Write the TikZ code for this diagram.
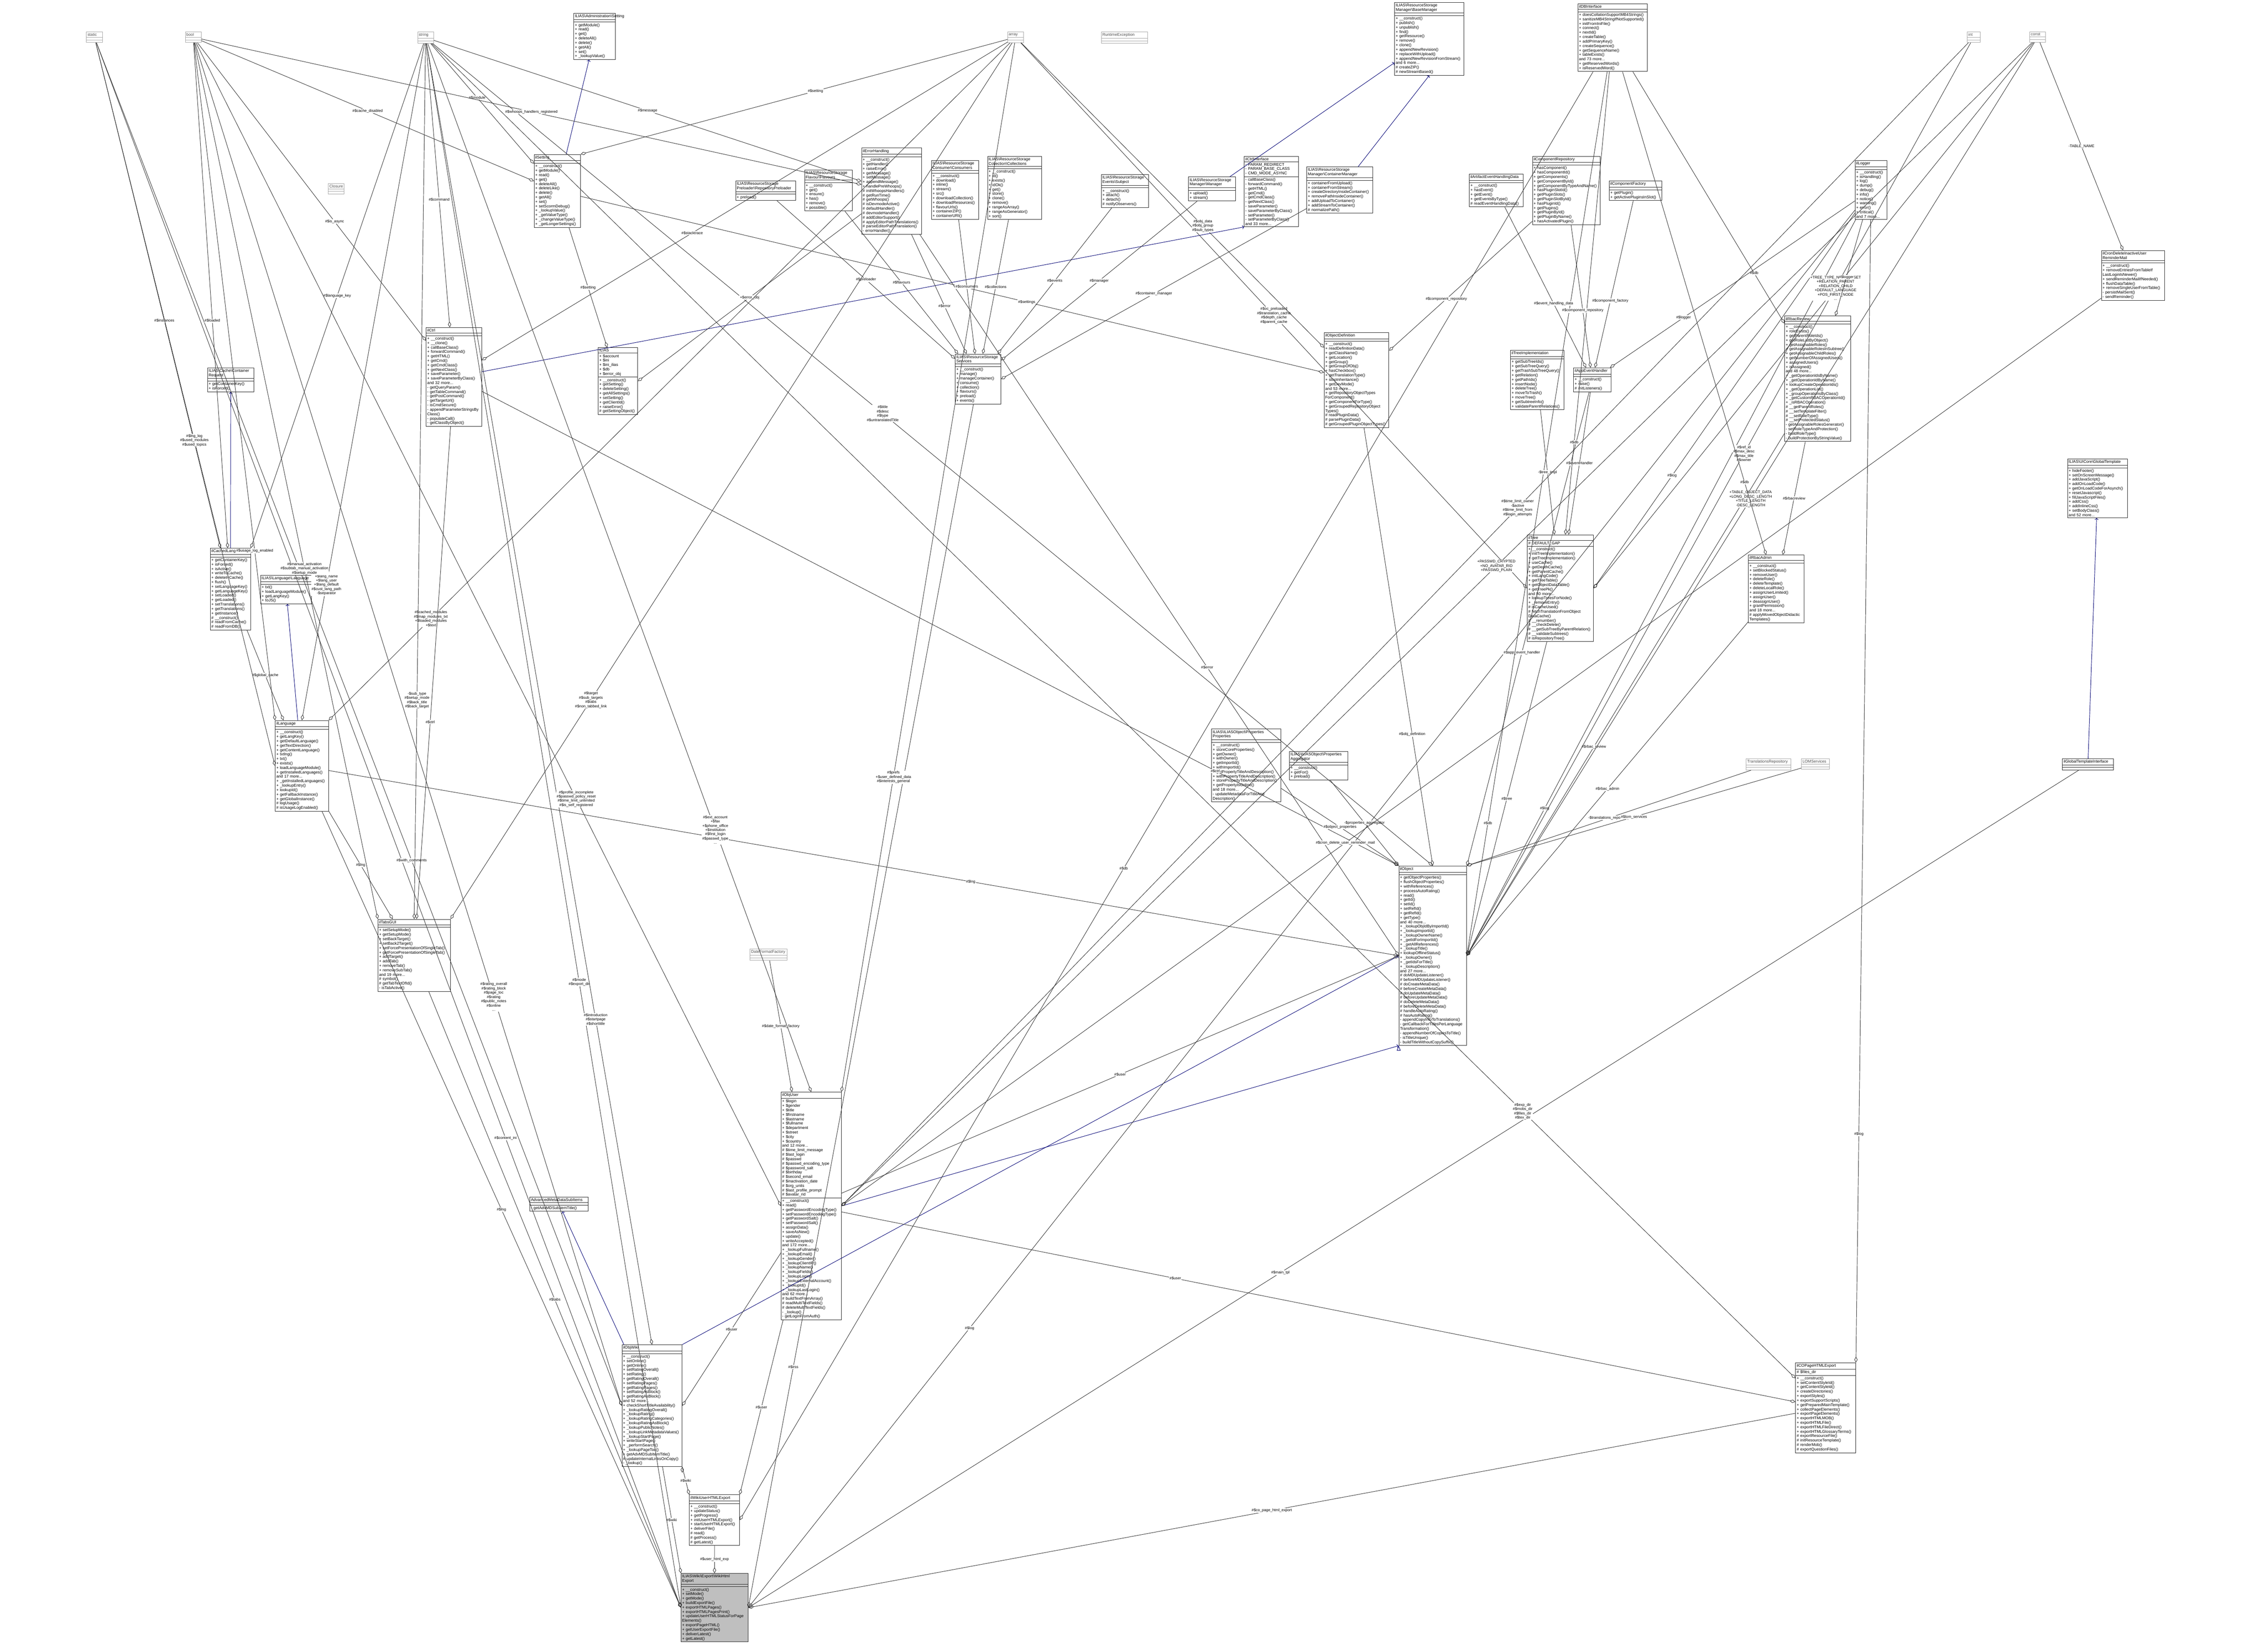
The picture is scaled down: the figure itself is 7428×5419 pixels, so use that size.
\documentclass[tikz,border=0pt]{standalone}
\usepackage{fontspec}
\setmainfont{Liberation Sans}
\usetikzlibrary{shapes.multipart,arrows.meta}

\newcommand{\bs}{\textbackslash{}}

\begin{document}
\begin{tikzpicture}[x=0.02cm,y=-0.02cm]
\tikzstyle{cls}=[draw=black!85,rectangle split,rectangle split parts=3,anchor=north west,
  rectangle split part align={center,left,left},rectangle split empty part height=10pt,
  font=\fontsize{7.4}{8.3}\selectfont,inner sep=2pt,line width=0.8pt]
\tikzstyle{prim}=[cls,draw=black!35,text=black!70]
\tikzstyle{agg}=[draw=black!80,line width=0.8pt,-{Diamond[open,length=11pt,width=6pt]}]
\tikzstyle{inh}=[draw=blue!45!black,line width=0.8pt,-{Triangle[open,length=9pt,width=7pt]}]
\tikzstyle{lbl}=[font=\fontsize{7}{8}\selectfont,align=center,fill=white,inner sep=1pt]
\useasboundingbox (0,0) rectangle (7428,5419);

% primitive types
\node [prim,text width=0.9cm] (static) at (283,104) {static\nodepart{two}\nodepart{three}};
\node [prim,text width=0.9cm] (bool) at (607,104) {bool\nodepart{two}\nodepart{three}};
\node [prim,text width=0.9cm] (string) at (1369,104) {string\nodepart{two}\nodepart{three}};
\node [prim,text width=0.9cm] (array) at (3304,104) {array\nodepart{two}\nodepart{three}};
\node [prim,text width=2.9cm] (runtime) at (3611,104) {RuntimeException\nodepart{two}\nodepart{three}};
\node [prim,text width=0.7cm] (int) at (6451,104) {int\nodepart{two}\nodepart{three}};
\node [prim,text width=0.9cm] (const) at (6656,104) {const\nodepart{two}\nodepart{three}};
\node [prim,text width=0.9cm] (closure) at (1076,601) {Closure\nodepart{two}\nodepart{three}};
\node [prim,text width=2.8cm] (transrepo) at (5726,2488) {TranslationsRepository\nodepart{two}\nodepart{three}};
\node [prim,text width=1.7cm] (lom) at (5907,2488) {LOMServices\nodepart{two}\nodepart{three}};
\node [prim,text width=2.3cm] (datefmt) at (2459,3113) {DateFormatFactory\nodepart{two}\nodepart{three}};

% classes, top part
\node [cls,text width=2.6cm] (admsetting) at (1881,43) {ILIAS\bs Administration\bs Setting\nodepart{two}\nodepart{three}+ getModule()\\+ read()\\+ get()\\+ deleteAll()\\+ delete()\\+ getAll()\\+ set()\\+ \_lookupValue()};
\node [cls,text width=2.9cm] (setting) at (1751,506) {ilSetting\nodepart{two}\nodepart{three}+ \_\_construct()\\+ getModule()\\+ read()\\+ get()\\+ deleteAll()\\+ deleteLike()\\+ delete()\\+ getAll()\\+ set()\\+ setScormDebug()\\+ \_lookupValue()\\+ \_getValueType()\\+ \_changeValueType()\\+ \_getLongerSettings()};
\node [cls,text width=3.8cm] (error) at (2825,485) {ilErrorHandling\nodepart{two}\nodepart{three}+ \_\_construct()\\+ getHandler()\\+ raiseError()\\+ getMessage()\\+ setMessage()\\+ appendMessage()\\+ handlePreWhoops()\\\# initWhoopsHandlers()\\\# getRunTime()\\\# getWhoops()\\\# isDevmodeActive()\\\# defaultHandler()\\\# devmodeHandler()\\\# addEditorSupport()\\\# applyEditorPathTranslations()\\\# parseEditorPathTranslation()\\- errorHandler()};
\node [cls,text width=3.8cm] (preloader) at (2412,593) {ILIAS\bs ResourceStorage\\Preloader\bs RepositoryPreloader\nodepart{two}\nodepart{three}+ preload()};
\node [cls,text width=3.0cm] (flavours) at (2638,557) {ILIAS\bs ResourceStorage\\Flavour\bs Flavours\nodepart{two}\nodepart{three}+ \_\_construct()\\+ get()\\+ ensure()\\+ has()\\+ remove()\\+ possible()};
\node [cls,text width=2.95cm] (consumers) at (3054,526) {ILIAS\bs ResourceStorage\\Consumer\bs Consumers\nodepart{two}\nodepart{three}+ \_\_construct()\\+ download()\\+ inline()\\+ stream()\\+ src()\\+ downloadCollection()\\+ downloadResources()\\+ flavourUrls()\\+ containerZIP()\\+ containerURI()};
\node [cls,text width=3.4cm] (collection) at (3238,512) {ILIAS\bs ResourceStorage\\Collection\bs Collections\nodepart{two}\nodepart{three}+ \_\_construct()\\+ id()\\+ exists()\\+ idOk()\\+ get()\\+ store()\\+ clone()\\+ remove()\\+ rangeAsArray()\\+ rangeAsGenerator()\\+ sort()};
\node [cls,text width=2.95cm] (events) at (3611,572) {ILIAS\bs ResourceStorage\\Events\bs Subject\nodepart{two}\nodepart{three}+ \_\_construct()\\+ attach()\\+ detach()\\\# notifyObservers()};
\node [cls,text width=4.4cm] (basemanager) at (4573,7) {ILIAS\bs ResourceStorage\\Manager\bs BaseManager\nodepart{two}\nodepart{three}+ \_\_construct()\\+ publish()\\+ unpublish()\\+ find()\\+ getResource()\\+ remove()\\+ clone()\\+ appendNewRevision()\\+ replaceWithUpload()\\+ appendNewRevisionFromStream()\\and 6 more...\\\# createZIP()\\\# newStreamBased()};
\node [cls,text width=4.4cm] (db) at (5174,12) {ilDBInterface\nodepart{two}\nodepart{three}+ doesCollationSupportMB4Strings()\\+ sanitizeMB4StringIfNotSupported()\\+ initFromIniFile()\\+ connect()\\+ nextId()\\+ createTable()\\+ addPrimaryKey()\\+ createSequence()\\+ getSequenceName()\\+ tableExists()\\and 73 more...\\+ getReservedWords()\\+ isReservedWord()};
\node [cls,text width=2.95cm] (manager) at (3897,580) {ILIAS\bs ResourceStorage\\Manager\bs Manager\nodepart{two}\nodepart{three}+ upload()\\+ stream()};
\node [cls,text width=3.4cm] (ctrlif) at (4080,512) {ilCtrlInterface\nodepart{two}- PARAM\_REDIRECT\\- PARAM\_BASE\_CLASS\\- CMD\_MODE\_ASYNC\nodepart{three}- callBaseClass()\\- forwardCommand()\\- getHTML()\\- getCmd()\\- getCmdClass()\\- getNextClass()\\- saveParameter()\\- saveParameterByClass()\\- setParameter()\\- setParameterByClass()\\and 33 more...};
\node [cls,text width=4.2cm] (containermgr) at (4285,547) {ILIAS\bs ResourceStorage\\Manager\bs ContainerManager\nodepart{two}\nodepart{three}+ containerFromUpload()\\+ containerFromStream()\\+ createDirectoryInsideContainer()\\+ removePathInsideContainer()\\+ addUploadToContainer()\\+ addStreamToContainer()\\\# normalizePath()};
\node [cls,text width=3.4cm] (evdata) at (4818,570) {ilArtifactEventHandlingData\nodepart{two}\nodepart{three}+ \_\_construct()\\+ hasEvent()\\+ getEvent()\\+ getEventsByType()\\\# readEventHandlingData()};
\node [cls,text width=4.3cm] (comprepo) at (5025,512) {ilComponentRepository\nodepart{two}\nodepart{three}+ hasComponent()\\+ hasComponentId()\\+ getComponents()\\+ getComponentById()\\+ getComponentByTypeAndName()\\+ hasPluginSlotId()\\+ getPluginSlots()\\+ getPluginSlotById()\\+ hasPluginId()\\+ getPlugins()\\+ getPluginById()\\+ getPluginByName()\\+ hasActivatedPlugin()};
\node [cls,text width=3.3cm] (compfactory) at (5277,593) {ilComponentFactory\nodepart{two}\nodepart{three}+ getPlugin()\\+ getActivePluginsInSlot()};
\node [cls,text width=1.95cm] (logger) at (6083,526) {ilLogger\nodepart{two}\nodepart{three}+ \_\_construct()\\+ isHandling()\\+ log()\\+ dump()\\+ debug()\\+ info()\\+ notice()\\+ warning()\\+ error()\\+ critical()\\and 7 more...};
\node [cls,text width=4.0cm] (cronmail) at (6891,821) {ilCronDeleteInactiveUser\\ReminderMail\nodepart{two}\nodepart{three}+ \_\_construct()\\+ removeEntriesFromTableIf\\LastLoginIsNewer()\\+ sendReminderMailIfNeeded()\\+ flushDataTable()\\+ removeSingleUserFromTable()\\- persistMailSent()\\- sendReminder()};

% classes, middle part
\node [cls,text width=3.5cm] (ctrl) at (1397,1074) {ilCtrl\nodepart{two}\nodepart{three}+ \_\_construct()\\+ \_\_clone()\\+ callBaseClass()\\+ forwardCommand()\\+ getHTML()\\+ getCmd()\\+ getCmdClass()\\+ getNextClass()\\+ saveParameter()\\+ saveParameterByClass()\\and 32 more...\\- getQueryParam()\\- getTableCommand()\\- getPostCommand()\\- getTargetUrl()\\- isCmdSecure()\\- appendParameterStringsBy\\Class()\\- populateCall()\\- getClassByObject()};
\node [cls,text width=2.45cm] (ilias) at (1961,1140) {ILIAS\nodepart{two}+ \$account\\+ \$ini\\+ \$ini\_ilias\\+ \$db\\+ \$error\_obj\nodepart{three}+ \_\_construct()\\+ getSetting()\\+ deleteSetting()\\+ getAllSettings()\\+ setSetting()\\+ getClientId()\\+ raiseError()\\\# getSettingObject()};
\node [cls,text width=2.85cm] (services) at (3132,1161) {ILIAS\bs ResourceStorage\\Services\nodepart{two}\nodepart{three}+ \_\_construct()\\+ manage()\\+ manageContainer()\\+ consume()\\+ collection()\\+ flavours()\\+ preload()\\+ events()};
\node [cls,text width=2.9cm] (request) at (680,1206) {ILIAS\bs Cache\bs Container\\Request\nodepart{two}\nodepart{three}+ getContainerKey()\\+ isForced()};
\node [cls,text width=4.1cm] (objdef) at (4342,1090) {ilObjectDefinition\nodepart{two}\nodepart{three}+ \_\_construct()\\+ readDefinitionData()\\+ getClassName()\\+ getLocation()\\+ getGroup()\\+ getGroupOfObj()\\+ hasCheckbox()\\+ getTranslationType()\\+ stopInheritance()\\+ getDevMode()\\and 53 more...\\+ getRepositoryObjectTypes\\ForComponent()\\+ getComponentForType()\\+ getGroupedRepositoryObject\\Types()\\\# readPluginData()\\\# parsePluginData()\\\# getGroupedPluginObjectTypes()};
\node [cls,text width=3.35cm] (treeimpl) at (4953,1148) {ilTreeImplementation\nodepart{two}\nodepart{three}+ getSubTreeIds()\\+ getSubTreeQuery()\\+ getTrashSubTreeQuery()\\+ getRelation()\\+ getPathIds()\\+ insertNode()\\+ deleteTree()\\+ moveToTrash()\\+ moveTree()\\+ getSubtreeInfo()\\+ validateParentRelations()};
\node [cls,text width=2.3cm] (appevent) at (5160,1206) {ilAppEventHandler\nodepart{two}\nodepart{three}+ \_\_construct()\\+ raise()\\\# initListeners()};
\node [cls,text width=4.2cm] (rbacreview) at (5852,1036) {ilRbacReview\nodepart{two}\nodepart{three}+ \_\_construct()\\+ roleExists()\\+ getParentRoleIds()\\+ getRoleListByObject()\\+ getAssignableRoles()\\+ getAssignableRolesInSubtree()\\+ getAssignableChildRoles()\\+ getNumberOfAssignedUsers()\\+ assignedUsers()\\+ isAssigned()\\and 48 more...\\+ \_getOperationIdsByName()\\+ \_getOperationIdByName()\\+ lookupCreateOperationIds()\\+ \_getOperationList()\\+ \_groupOperationsByClass()\\+ \_getCustomRBACOperationId()\\+ \_isRBACOperation()\\\# \_\_getParentRoles()\\\# \_\_setTemplateFilter()\\\# \_\_setRoleType()\\\# \_\_setProtectedStatus()\\- getAssignableRolesGenerator()\\- setRoleTypeAndProtection()\\- buildRoleType()\\- buildProtectionByStringValue()};
\node [cls,text width=2.5cm] (cachedlng) at (689,1798) {ilCachedLanguage\nodepart{two}\nodepart{three}+ getContainerKey()\\+ isForced()\\+ isActive()\\+ writeToCache()\\+ deleteInCache()\\+ flush()\\+ setLanguageKey()\\+ getLanguageKey()\\+ setLoaded()\\+ getLoaded()\\+ setTranslations()\\+ getTranslations()\\+ getInstance()\\\# \_\_construct()\\\# readFromCache()\\\# readFromDB()};
\node [cls,text width=3.2cm] (language) at (854,1887) {ILIAS\bs Language\bs Language\nodepart{two}\nodepart{three}+ txt()\\+ loadLanguageModule()\\+ getLangKey()\\+ toJS()};
\node [cls,text width=4.2cm] (tree) at (5008,1754) {ilTree\nodepart{two}\# DEFAULT\_GAP\nodepart{three}+ \_\_construct()\\+ initTreeImplementation()\\+ getTreeImplementation()\\+ useCache()\\+ getDepthCache()\\+ getParentCache()\\+ initLangCode()\\+ getTreeTable()\\+ getObjectDataTable()\\+ getTreePk()\\and 80 more...\\+ lookupTreesForNode()\\+ \_removeEntry()\\\# isCacheUsed()\\\# fetchTranslationFromObject\\DataCache()\\\# \_\_renumber()\\\# \_\_checkDelete()\\\# \_\_getSubTreeByParentRelation()\\\# \_\_validateSubtrees()\\\# isRepositoryTree()};
\node [cls,text width=3.5cm] (rbacadmin) at (5733,1820) {ilRbacAdmin\nodepart{two}\nodepart{three}+ \_\_construct()\\+ setBlockedStatus()\\+ removeUser()\\+ deleteRole()\\+ deleteTemplate()\\+ deleteLocalRole()\\+ assignUserLimited()\\+ assignUser()\\+ deassignUser()\\+ grantPermission()\\and 18 more...\\\# applyMovedObjectDidactic\\Templates()};
\node [cls,text width=3.8cm] (globaltpl) at (6780,1505) {ILIAS\bs UICore\bs GlobalTemplate\nodepart{two}\nodepart{three}+ hideFooter()\\+ setOnScreenMessage()\\+ addJavaScript()\\+ addOnLoadCode()\\+ getOnLoadCodeForAsynch()\\+ resetJavascript()\\+ fillJavaScriptFiles()\\+ addCss()\\+ addInlineCss()\\+ setBodyClass()\\and 52 more...};
\node [cls,text width=3.35cm] (lng) at (902,2363) {ilLanguage\nodepart{two}\nodepart{three}+ \_\_construct()\\+ getLangKey()\\+ getDefaultLanguage()\\+ getTextDirection()\\+ getContentLanguage()\\+ txtlng()\\+ txt()\\+ exists()\\+ loadLanguageModule()\\+ getInstalledLanguages()\\and 17 more...\\+ \_getInstalledLanguages()\\+ \_lookupEntry()\\+ lookupId()\\+ getFallbackInstance()\\+ getGlobalInstance()\\\# logUsage()\\\# isUsageLogEnabled()};
\node [cls,text width=4.4cm] (properties) at (3973,2391) {ILIAS\bs ILIASObject\bs Properties\\Properties\nodepart{two}\nodepart{three}+ \_\_construct()\\+ storeCoreProperties()\\+ getOwner()\\+ withOwner()\\+ getImportId()\\+ withImportId()\\+ getPropertyTitleAndDescription()\\+ withPropertyTitleAndDescription()\\+ storePropertyTitleAndDescription()\\+ getPropertyIsOnline()\\and 18 more...\\- updateMetadataForTitleAnd\\Description()};
\node [cls,text width=3.7cm] (aggregator) at (4228,2465) {ILIAS\bs ILIASObject\bs Properties\\Aggregator\nodepart{two}\nodepart{three}+ \_\_construct()\\+ getFor()\\+ preload()};
\node [cls,text width=3.2cm] (gtplif) at (6763,2488) {ilGlobalTemplateInterface\nodepart{two}\nodepart{three}};

% classes, lower part
\node [cls,text width=4.3cm] (object) at (4587,2840) {ilObject\nodepart{two}\nodepart{three}+ getObjectProperties()\\+ flushObjectProperties()\\+ withReferences()\\+ processAutoRating()\\+ read()\\+ getId()\\+ setId()\\+ setRefId()\\+ getRefId()\\+ getType()\\and 40 more...\\+ \_lookupObjIdByImportId()\\+ \_lookupImportId()\\+ \_lookupOwnerName()\\+ \_getIdForImportId()\\+ \_getAllReferences()\\+ \_lookupTitle()\\+ lookupOfflineStatus()\\+ \_lookupOwner()\\+ \_getIdsForTitle()\\+ \_lookupDescription()\\and 27 more...\\\# doMDUpdateListener()\\\# beforeMDUpdateListener()\\\# doCreateMetaData()\\\# beforeCreateMetaData()\\\# doUpdateMetaData()\\\# beforeUpdateMetaData()\\\# doDeleteMetaData()\\\# beforeDeleteMetaData()\\\# handleAutoRating()\\\# hasAutoRating()\\- appendCopyInfoToTranslations()\\- getCallbackForTitlesPerLanguage\\Transformation()\\- appendNumberOfCopiesToTitle()\\- isTitleUnique()\\- buildTitleWithoutCopySuffix()};
\node [cls,text width=4.6cm] (tabs) at (1239,3015) {ilTabsGUI\nodepart{two}\nodepart{three}+ setSetupMode()\\+ getSetupMode()\\+ setBackTarget()\\+ setBack2Target()\\+ setForcePresentationOfSingleTab()\\+ getForcePresentationOfSingleTab()\\+ addTarget()\\+ addTab()\\+ removeTab()\\+ removeSubTab()\\and 19 more...\\\# symbol()\\\# getTabTextOfId()\\- isTabActive()};
\node [cls,text width=3.8cm] (objuser) at (2561,3582) {ilObjUser\nodepart{two}+ \$login\\+ \$gender\\+ \$title\\+ \$firstname\\+ \$lastname\\+ \$fullname\\+ \$department\\+ \$street\\+ \$city\\+ \$country\\and 12 more...\\\# \$time\_limit\_message\\\# \$last\_login\\\# \$passwd\\\# \$passwd\_encoding\_type\\\# \$password\_salt\\\# \$birthday\\\# \$second\_email\\\# \$inactivation\_date\\\# \$org\_units\\\# \$last\_profile\_prompt\\\# \$avatar\_rid\nodepart{three}+ \_\_construct()\\+ read()\\+ getPasswordEncodingType()\\+ setPasswordEncodingType()\\+ getPasswordSalt()\\+ setPasswordSalt()\\+ assignData()\\+ saveAsNew()\\+ update()\\+ writeAccepted()\\and 172 more...\\+ \_lookupFullname()\\+ \_lookupEmail()\\+ \_lookupGender()\\+ \_lookupClientIP()\\+ \_lookupName()\\+ \_lookupFields()\\+ \_lookupLogin()\\+ \_lookupExternalAccount()\\+ \_lookupId()\\+ \_lookupLastLogin()\\and 62 more...\\\# buildTextFromArray()\\\# readMultiTextFields()\\\# deleteMultiTextFields()\\- \_lookup()\\- getLoginFromAuth()};
\node [cls,text width=3.7cm] (amdsub) at (1737,3926) {AdvancedMetaDataSubItems\nodepart{two}\nodepart{three}- getAdvMDSubItemTitle()};
\node [cls,text width=3.8cm] (objwiki) at (2039,4411) {ilObjWiki\nodepart{two}\nodepart{three}+ \_\_construct()\\+ setOnline()\\+ getOnline()\\+ setRatingOverall()\\+ setRating()\\+ getRatingOverall()\\+ setRatingPages()\\+ getRatingPages()\\+ setRatingAsBlock()\\+ getRatingAsBlock()\\and 52 more...\\+ checkShortTitleAvailability()\\+ \_lookupRatingOverall()\\+ \_lookupRating()\\+ \_lookupRatingCategories()\\+ \_lookupRatingAsBlock()\\+ \_lookupPublicNotes()\\+ \_lookupLinkMetadataValues()\\+ \_lookupStartPage()\\+ writeStartPage()\\+ \_performSearch()\\+ \_lookupPageToc()\\+ getAdvMDSubItemTitle()\\\# updateInternalLinksOnCopy()\\- \_lookup()};
\node [cls,text width=3.15cm] (userexp) at (2260,4903) {ilWikiUserHTMLExport\nodepart{two}\nodepart{three}+ \_\_construct()\\+ updateStatus()\\+ getProgress()\\+ initUserHTMLExport()\\+ startUserHTMLExport()\\+ deliverFile()\\\# read()\\\# getProcess()\\\# getLatest()};
\node [cls,text width=3.8cm] (copage) at (5888,4470) {ilCOPageHTMLExport\nodepart{two}\# \$files\_dir\nodepart{three}+ \_\_construct()\\+ setContentStyleId()\\+ getContentStyleId()\\+ createDirectories()\\+ exportStyles()\\+ exportSupportScripts()\\+ getPreparedMainTemplate()\\+ collectPageElements()\\+ exportPageElements()\\+ exportHTMLMOB()\\+ exportHTMLFile()\\+ exportHTMLFileDirect()\\+ exportHTMLGlossaryTerms()\\\# exportResourceFile()\\\# initResourceTemplate()\\\# renderMob()\\\# exportQuestionFiles()};
\node [cls,text width=4.25cm,fill=black!25] (wikiexp) at (2233,5161) {ILIAS\bs Wiki\bs Export\bs WikiHtml\\Export\nodepart{two}\nodepart{three}+ \_\_construct()\\+ setMode()\\+ getMode()\\+ buildExportFile()\\+ exportHTMLPages()\\+ exportHTMLPagesPrint()\\+ updateUserHTMLStatusForPage\\Elements()\\+ exportPageHTML()\\+ getUserExportFile()\\+ deliverLatest()\\+ getLatest()};

% inheritance
\path [inh]
    (admsetting) edge [<-] (setting)
    (ctrlif.south west) edge [<-] (ctrl)
    (basemanager) edge [<-] (manager)
    (basemanager.south) edge [<-] (containermgr)
    (request) edge [<-] (cachedlng)
    (language) edge [<-] (lng)
    (globaltpl) edge [<-] (gtplif)
    (amdsub) edge [<-] (objwiki)
    (object.west) edge [<-] (objwiki.north east)
    (object.south west) edge [<-] (objuser.east);

% members of the export
\path [agg,every node/.style=lbl]
    (userexp) edge node {\#\$user\_html\_exp} (wikiexp)
    (objwiki) edge node {\#\$wiki} (wikiexp.north west)
    (objwiki.south east) edge node {\#\$wiki} (userexp.north west)
    (objuser) edge node {\#\$user} (userexp.north east)
    (lng) edge node {\#\$lng} (wikiexp.west)
    (tabs) edge node {\#\$tabs} (wikiexp.west)
    (static) edge node[pos=0.7] {\#\$content\_ini} (wikiexp.west)
    (string) edge node[pos=0.6] {\#\$mode\\\#\$export\_dir} (wikiexp.west)
    (copage) edge node {\#\$co\_page\_html\_export} (wikiexp.east)
    (gtplif) edge node[pos=0.6] {\#\$main\_tpl} (wikiexp.east)
    (logger) edge node[pos=0.8] {\#\$log} (wikiexp.east)
    (services) edge node[pos=0.8] {\#\$irss} (wikiexp.east)
    (db) edge node[pos=0.55] {\#\$db} (userexp.east);

% members of the wiki
\path [agg,every node/.style=lbl]
    (objuser) edge node {\#\$user} (objwiki.east)
    (string) edge node[pos=0.75] {\#\$introduction\\\#\$startpage\\\#\$shorttitle} (objwiki.north)
    (bool) edge node[pos=0.7] {\#\$rating\_overall\\\#\$rating\_block\\\#\$page\_toc\\\#\$rating\\\#\$public\_notes\\\#\$online\\...} (objwiki.west)
    (static) edge node[pos=0.6] {\#\$with\_comments} (objwiki.west);

% members of the object
\path [agg,every node/.style=lbl]
    (tree) edge node {\#\$tree} (object.east)
    (rbacadmin) edge node {\#\$rbac\_admin} (object.east)
    (rbacreview) edge node[pos=0.6] {\#\$rbac\_review} (object.east)
    (appevent) edge node[pos=0.55] {\#\$app\_event\_handler} (object.north east)
    (objdef) edge node[pos=0.7] {\#\$obj\_definition} (object.north)
    (objuser) edge node {\#\$user} (object.west)
    (error) edge node[pos=0.6] {\#\$error} (object.west)
    (lng) edge node[pos=0.6] {\#\$lng} (object.west)
    (ctrl) edge node[pos=0.8] {\#\$ctrl} (object.north west)
    (properties) edge node {\#\$object\_properties} (object.north west)
    (aggregator) edge node {-\$properties\_aggregator} (object.north west)
    (transrepo) edge node {-\$translations\_repository} (object.north east)
    (lom) edge node {\#\$lom\_services} (object.north east)
    (db) edge node[pos=0.85] {\#\$db} (object.east)
    (logger) edge node[pos=0.8] {\#\$log} (object.east)
    (const) edge node[pos=0.5] {+TABLE\_OBJECT\_DATA\\+LONG\_DESC\_LENGTH\\+TITLE\_LENGTH\\-DESC\_LENGTH} (object.east)
    (int) edge node[pos=0.45] {\#\$ref\_id\\\#\$max\_desc\\\#\$max\_title\\\#\$owner} (object.east)
    (string) edge node[pos=0.45] {\#\$title\\\#\$desc\\\#\$type\\\#\$untranslatedTitle} (object.north);

% members of the tree, rbac and events
\path [agg,every node/.style=lbl]
    (treeimpl) edge node {-\$tree\_impl} (tree)
    (appevent) edge node {\#\$eventHandler} (tree)
    (db) edge node[pos=0.8] {\#\$db} (tree)
    (logger) edge node[pos=0.7] {\#\$log} (tree.east)
    (array) edge node[pos=0.5] {\#\$oc\_preloaded\\\#\$translation\_cache\\\#\$depth\_cache\\\#\$parent\_cache} (tree.west)
    (const) edge node[pos=0.45] {+TREE\_TYPE\_NESTED\_SET\\+RELATION\_PARENT\\+RELATION\_CHILD\\+DEFAULT\_LANGUAGE\\+POS\_FIRST\_NODE\\...} (tree.east)
    (rbacreview) edge node {\#\$rbacreview} (rbacadmin)
    (db) edge node[pos=0.85] {\#\$db} (rbacadmin)
    (logger) edge node[pos=0.6] {\#\$logger} (rbacreview)
    (db) edge node[pos=0.8] {\#\$db} (rbacreview)
    (evdata) edge node[pos=0.6] {\#\$event\_handling\_data} (appevent)
    (comprepo) edge node[pos=0.6] {\#\$component\_repository} (appevent)
    (compfactory) edge node[pos=0.6] {\#\$component\_factory} (appevent)
    (logger) edge node[pos=0.7] {\#\$logger} (appevent)
    (comprepo) edge node[pos=0.6] {\#\$component\_repository} (objdef)
    (setting) edge node[pos=0.6] {\#\$settings} (objdef)
    (array) edge node[pos=0.6] {\#\$obj\_data\\\#\$obj\_group\\\#\$sub\_types} (objdef);

% members of the resource storage
\path [agg,every node/.style=lbl]
    (preloader) edge node {\#\$preloader} (services)
    (flavours) edge node {\#\$flavours} (services)
    (error) edge node[pos=0.6] {\#\$error} (services)
    (consumers) edge node {\#\$consumers} (services)
    (collection) edge node {\#\$collections} (services)
    (events) edge node {\#\$events} (services)
    (manager) edge node {\#\$manager} (services)
    (containermgr) edge node {\#\$container\_manager} (services.east);

% members of ctrl, settings and error handling
\path [agg,every node/.style=lbl]
    (string) edge node[pos=0.55] {\#\$command} (ctrl)
    (array) edge node[pos=0.6] {\#\$stacktrace} (ctrl)
    (bool) edge node[pos=0.6] {\#\$is\_async} (ctrl)
    (string) edge node[pos=0.45] {\#\$module} (setting)
    (bool) edge node[pos=0.5] {\#\$cache\_disabled} (setting)
    (array) edge node[pos=0.45] {\#\$setting} (setting.north east)
    (string) edge node[pos=0.5] {\#\$message} (error)
    (bool) edge node[pos=0.5] {\#\$whoops\_handlers\_registered} (error)
    (setting) edge node[pos=0.5] {\#\$setting} (ilias)
    (error) edge node[pos=0.5] {+\$error\_obj} (ilias.east);

% members of the language classes and tabs
\path [agg,every node/.style=lbl]
    (static) edge node[pos=0.55] {\#\$instances} (cachedlng)
    (bool) edge node[pos=0.55] {\#\$loaded} (cachedlng)
    (string) edge node[pos=0.5] {\#\$language\_key} (cachedlng.north east)
    (cachedlng) edge node {\#\$global\_cache} (lng)
    (static) edge node[pos=0.55] {\#\$lng\_log\\\#\$used\_modules\\\#\$used\_topics} (lng.west)
    (bool) edge node[pos=0.75] {\#\$usage\_log\_enabled} (lng.north west)
    (string) edge node[pos=0.8] {+\$lang\_name\\+\$lang\_user\\+\$lang\_default\\\#\$cust\_lang\_path\\-\$separator} (lng.north)
    (array) edge node[pos=0.85] {\#\$cached\_modules\\\#\$map\_modules\_txt\\+\$loaded\_modules\\+\$text} (lng.north east)
    (lng) edge node {\#\$lng} (tabs)
    (ctrl) edge node[pos=0.6] {\#\$ctrl} (tabs)
    (string) edge node[pos=0.75] {-\$sub\_type\\\#\$setup\_mode\\\#\$back\_title\\\#\$back\_target} (tabs.north)
    (array) edge node[pos=0.75] {\#\$target\\\#\$sub\_targets\\\#\$tabs\\\#\$non\_tabbed\_link} (tabs.north east)
    (bool) edge node[pos=0.6] {\#\$manual\_activation\\\#\$subtab\_manual\_activation\\\#\$setup\_mode} (tabs.north west);

% members of the user
\path [agg,every node/.style=lbl]
    (datefmt) edge node {\#\$date\_format\_factory} (objuser)
    (cronmail) edge node[pos=0.6] {\#\$cron\_delete\_user\_reminder\_mail} (objuser.east)
    (string) edge node[pos=0.75] {\#\$ext\_account\\+\$fax\\+\$phone\_office\\+\$institution\\\#\$first\_login\\\#\$passwd\_type\\...} (objuser.north)
    (bool) edge node[pos=0.65] {\#\$profile\_incomplete\\\#\$passwd\_policy\_reset\\\#\$time\_limit\_unlimited\\\#\$is\_self\_registered} (objuser.west)
    (int) edge node[pos=0.4] {\#\$time\_limit\_owner\\-\$active\\\#\$time\_limit\_from\\\#\$login\_attempts} (objuser.east)
    (const) edge node[pos=0.45] {+PASSWD\_CRYPTED\\+NO\_AVATAR\_RID\\+PASSWD\_PLAIN} (objuser.east)
    (array) edge node[pos=0.7] {\#\$prefs\\+\$user\_defined\_data\\\#\$interests\_general} (objuser.north east)
    (const) edge node[pos=0.5] {-TABLE\_NAME} (cronmail)
    (objuser) edge node[pos=0.35] {\#\$user} (copage)
    (string) edge node[pos=0.8] {\#\$exp\_dir\\\#\$mobs\_dir\\\#\$files\_dir\\\#\$tex\_dir} (copage)
    (logger) edge node[pos=0.8] {\#\$log} (copage.north east);
\end{tikzpicture}
\end{document}
